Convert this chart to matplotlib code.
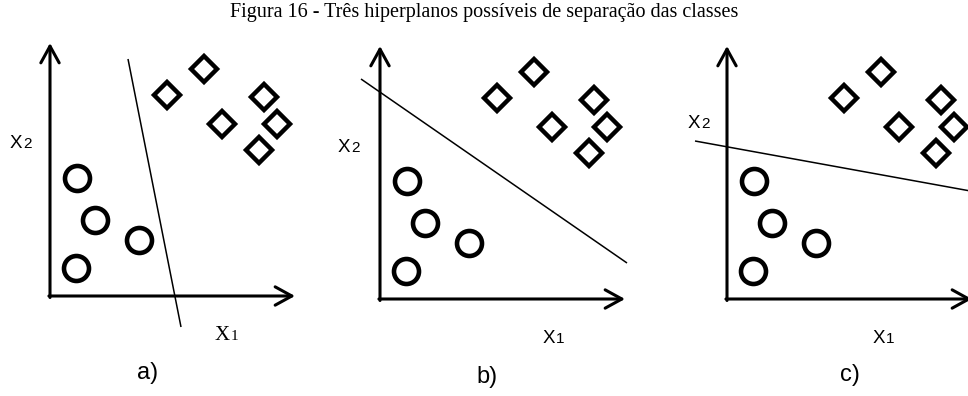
import matplotlib
matplotlib.use('Agg')
import matplotlib.pyplot as plt

# Figure is laid out in pixels: 968 x 396 at 100 dpi
W, H, DPI = 968, 396, 100

TITLE = 'Figura 16 - Três hiperplanos possíveis de separação das classes'
PANEL_LABELS = ['a)', 'b)', 'c)']

# Class points, in pixels relative to each panel's axis corner (y up)
circles_x = [27, 45, 89, 26]
circles_y = [118, 76, 56, 28]
diamonds_x = [117, 154, 172, 214, 227, 209]
diamonds_y = [201, 227, 172, 199, 172, 146]

# Separating line of each panel: (x0, y0, x1, y1), same local coordinates
hyperplanes = [
    (78, 237, 131, -31),
    (-19, 220, 247, 36),
    (-32, 158, 260, 105),
]

# Where each panel sits in the picture (pixels from top-left)
origins = [(50, 296), (380, 299), (727, 299)]
x2_pos = [(10, 148), (338, 152), (688, 128)]   # left, baseline
x1_pos = [(215, 340), (543, 343), (873, 343)]
x1_serif = [True, False, False]
label_pos = [(148, 373), (487, 377), (850, 375)]

AXIS_W = 245
AXIS_H = 253


def sub_label(ax, x, y, main, sub, family, size=13, subsize=10):
    t = ax.text(x, y, main, fontsize=size, family=family, ha='left', va='baseline')
    fig = ax.figure
    fig.canvas.draw()
    bb = t.get_window_extent()
    inv = ax.transData.inverted()
    x_end = inv.transform((bb.x1, bb.y0))[0]
    ax.text(x_end + 0.5, y, sub, fontsize=subsize, family=family, ha='left', va='baseline')


def draw_panel(fig, i):
    ox, oy = origins[i]
    left = [0, 320, 640][i]
    right = [320, 640, 968][i]
    ax = fig.add_axes([left / W, 0, (right - left) / W, 1])
    ax.set_xlim(left - ox, right - ox)
    ax.set_ylim(oy - H, oy)
    ax.axis('off')

    arrow = dict(arrowstyle='->,head_length=0.6,head_width=0.33', lw=2.2,
                 color='black', shrinkA=0, shrinkB=0, mutation_scale=20)
    ax.annotate('', xy=(0, AXIS_H), xytext=(0, -1.5), arrowprops=arrow,
                annotation_clip=False)
    ax.annotate('', xy=(AXIS_W, 0), xytext=(-1.1, 0), arrowprops=arrow,
                annotation_clip=False)

    x0, y0, x1, y1 = hyperplanes[i]
    ax.plot([x0, x1], [y0, y1], color='black', lw=1.1, solid_capstyle='butt')

    ax.plot(circles_x, circles_y, 'o', ls='none', ms=18, mfc='white',
            mec='black', mew=3.3)
    ax.plot(diamonds_x, diamonds_y, 'D', ls='none', ms=13.5, mfc='white',
            mec='black', mew=3.2)

    px, py = x2_pos[i]
    sub_label(ax, px - ox, oy - py, 'X', '2', 'Liberation Sans', 13.5, 11)
    px, py = x1_pos[i]
    if x1_serif[i]:
        sub_label(ax, px - ox, oy - py, 'X', '1', 'Liberation Serif', 15, 11)
    else:
        sub_label(ax, px - ox, oy - py, 'X', '1', 'Liberation Sans', 13.5, 11)

    px, py = label_pos[i]
    ax.text(px - ox, oy - py, PANEL_LABELS[i], fontsize=17, family='Liberation Sans',
            ha='center', va='center')
    return ax


fig = plt.figure(figsize=(W / DPI, H / DPI), dpi=DPI)
for i in range(3):
    draw_panel(fig, i)

fig.text(484 / W, 1 - 12 / H, TITLE, fontsize=14.5, family='Liberation Serif',
         ha='center', va='center')

fig.savefig('out.png', dpi=DPI)
